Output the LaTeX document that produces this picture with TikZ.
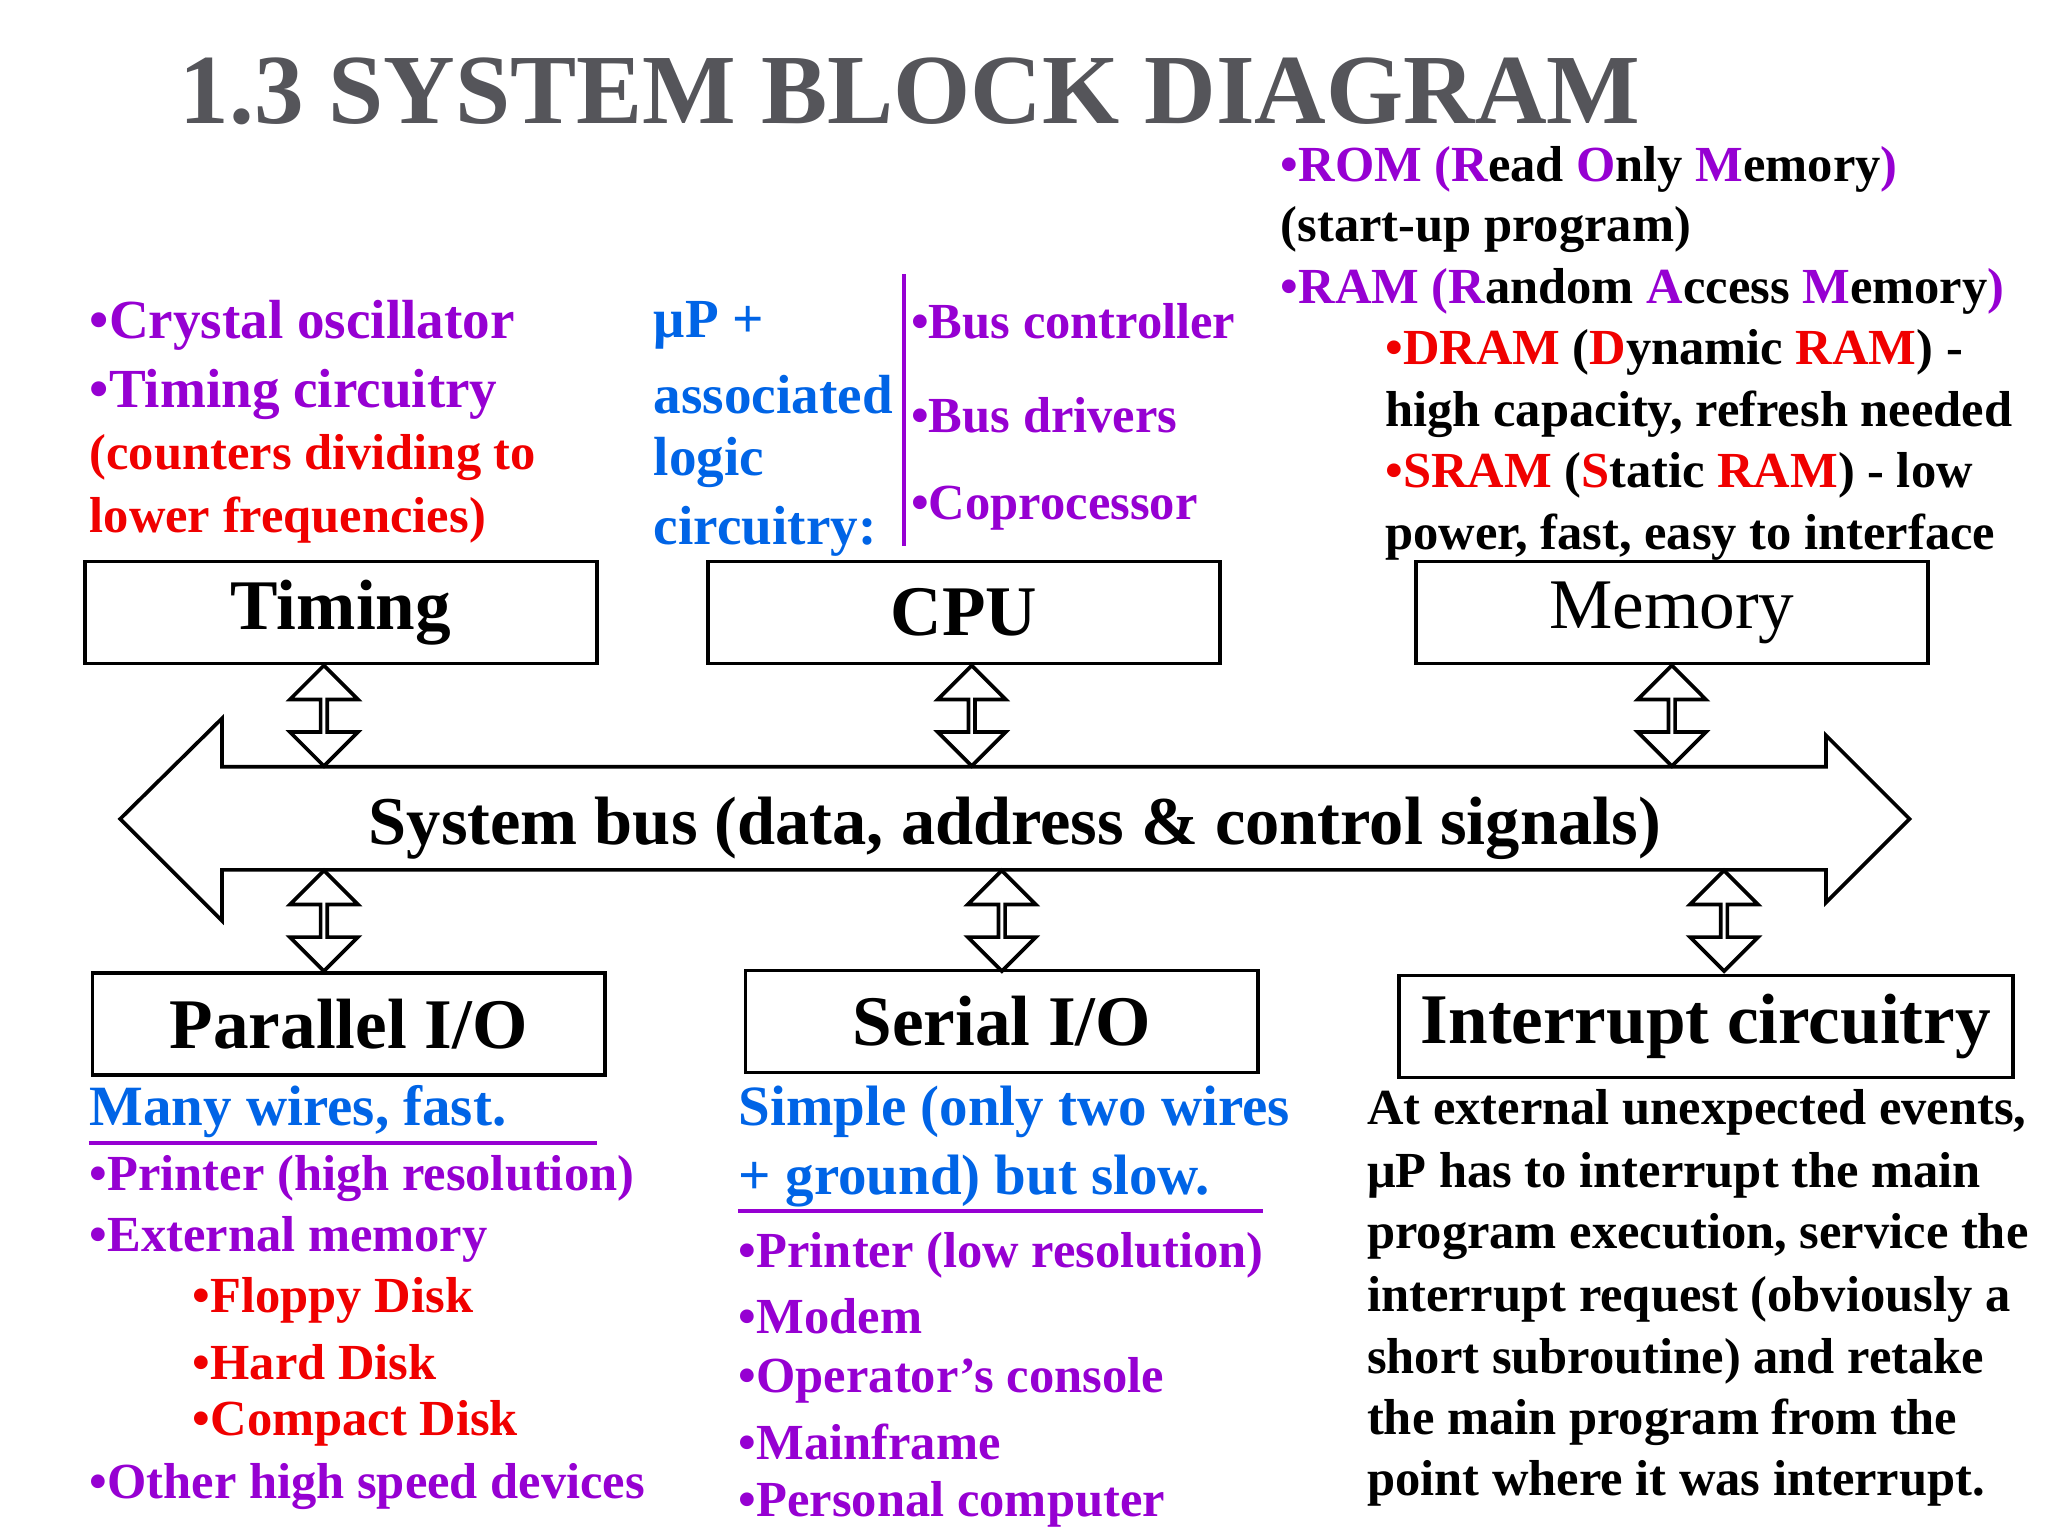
\documentclass[tikz,border=0pt]{standalone}
\usepackage{fontspec}
\setmainfont{Liberation Serif}
\usetikzlibrary{shapes.arrows}
\definecolor{prp}{RGB}{150,0,210}
\definecolor{rd}{RGB}{240,0,0}
\definecolor{bl}{RGB}{0,100,230}
\definecolor{ttl}{RGB}{85,85,90}
\newcommand\pu[1]{\textcolor{prp}{#1}}
\newcommand\rr[1]{\textcolor{rd}{#1}}
\tikzstyle{block}=[draw, thick, minimum width=3.92cm, minimum height=0.78cm, inner sep=0pt, font=\fontsize{15.5}{18}\selectfont\bfseries]
\tikzstyle{txt}=[anchor=west, inner sep=0pt, font=\fontsize{11}{13}\selectfont\bfseries]
\tikzstyle{midtxt}=[anchor=west, inner sep=0pt, font=\fontsize{12}{14}\selectfont\bfseries]
\tikzstyle{bigtxt}=[anchor=west, inner sep=0pt, font=\fontsize{12.4}{15}\selectfont\bfseries]
\tikzstyle{dbl}=[double arrow, draw, thick, rotate=90, minimum height=0.77cm, minimum width=0.52cm, double arrow head extend=0.13cm, double arrow tip angle=90, inner sep=0pt]

\begin{document}
\begin{tikzpicture}[x=0.01cm, y=-0.01cm]
  \useasboundingbox (0,0) rectangle (1568,1176);
  \node[anchor=west, inner sep=0pt, text=ttl, font=\fontsize{21.6}{24}\selectfont\bfseries] (title) at (137,70) {1.3 SYSTEM BLOCK DIAGRAM};

  % The blocks
  \node[block] (timing) at (261,469) {Timing};
  \node[block] (cpu) at (738,469) {CPU};
  \node[block, font=\fontsize{15.5}{18}\selectfont] (memory) at (1280,469) {Memory};
  \node[block] (parallel) at (267,784) {Parallel I/O};
  \node[block] (serial) at (767,782) {Serial I/O};
  \node[block, minimum width=4.7cm] (interrupt) at (1306,786) {Interrupt circuitry};

  % The system bus
  \draw[thick] (92,627) -- (170,550) -- (170,587) -- (1398,587) -- (1398,563) -- (1462,627)
    -- (1398,691) -- (1398,666) -- (170,666) -- (170,705) -- cycle;
  \node[font=\fontsize{14.9}{18}\selectfont\bfseries] (bus) at (777,634) {System bus (data, address \& control signals)};

  % The links to the bus
  \foreach \pos/\name in {{(248,548)/tlink}, {(744,548)/clink}, {(1280,548)/mlink},
      {(248,705)/plink}, {(767,705)/slink}, {(1320,705)/ilink}}
    \node[dbl] (\name) at \pos {};

  % Timing notes
  \node[midtxt, text=prp] (t1) at (68,249) {•Crystal oscillator};
  \node[midtxt, text=prp] (t2) at (68,302) {•Timing circuitry};
  \node[txt, text=rd] (t3) at (68,350) {(counters dividing to};
  \node[txt, text=rd] (t4) at (68,398) {lower frequencies)};

  % CPU notes
  \foreach \y/\name/\label in {249/c1/{μP +}, 302/c2/associated, 354/c3/logic, 407/c4/circuitry:}
    \node[midtxt, text=bl] (\name) at (500,\y) {\label};
  \draw[prp, thick] (692,210) -- (692,418);
  \foreach \y/\name/\label in {246/d1/{•Bus controller}, 318/d2/{•Bus drivers}, 389/d3/{•Coprocessor}}
    \node[txt, text=prp] (\name) at (697,\y) {\label};

  % Memory notes
  \node[txt] (m1) at (980,130) {\pu{•ROM (R}ead \pu{O}nly \pu{M}emory\pu{)}};
  \node[txt] (m2) at (980,176) {(start-up program)};
  \node[txt] (m3) at (980,223) {\pu{•RAM (R}andom \pu{A}ccess \pu{M}emory\pu{)}};
  \node[txt] (m4) at (1060,270) {\rr{•DRAM} (\rr{D}ynamic \rr{RAM}) -};
  \node[txt] (m5) at (1060,317) {high capacity, refresh needed};
  \node[txt] (m6) at (1060,364) {\rr{•SRAM} (\rr{S}tatic \rr{RAM}) - low};
  \node[txt] (m7) at (1060,411) {power, fast, easy to interface};

  % Parallel I/O notes
  \node[bigtxt, text=bl] (p0) at (68,851) {Many wires, fast.};
  \draw[prp, thick] (68,875) -- (457,875);
  \foreach \x/\y/\name/\label/\col in {68/902/p1/{•Printer (high resolution)}/prp, 68/949/p2/{•External memory}/prp,
      147/996/p3/{•Floppy Disk}/rd, 147/1043/p4/{•Hard Disk}/rd, 147/1090/p5/{•Compact Disk}/rd,
      68/1138/p6/{•Other high speed devices}/prp}
    \node[txt, text=\col] (\name) at (\x,\y) {\label};

  % Serial I/O notes
  \node[bigtxt, text=bl] (s0) at (565,851) {Simple (only two wires};
  \node[bigtxt, text=bl] (s00) at (565,904) {+ ground) but slow.};
  \draw[prp, thick] (565,927) -- (967,927);
  \foreach \y/\name/\label in {961/s1/{•Printer (low resolution)}, 1008/s2/{•Modem},
      1057/s3/{•Operator’s console}, 1104/s4/{•Mainframe}, 1152/s5/{•Personal computer}}
    \node[txt, text=prp] (\name) at (565,\y) {\label};

  % Interrupt notes
  \foreach \y/\name/\label in {852/i1/{At external unexpected events,}, 900/i2/{μP has to interrupt the main},
      947/i3/{program execution, service the}, 995/i4/{interrupt request (obviously a},
      1042/i5/{short subroutine) and retake}, 1089/i6/{the main program from the},
      1136/i7/{point where it was interrupt.}}
    \node[txt] (\name) at (1046,\y) {\label};
\end{tikzpicture}
\end{document}
